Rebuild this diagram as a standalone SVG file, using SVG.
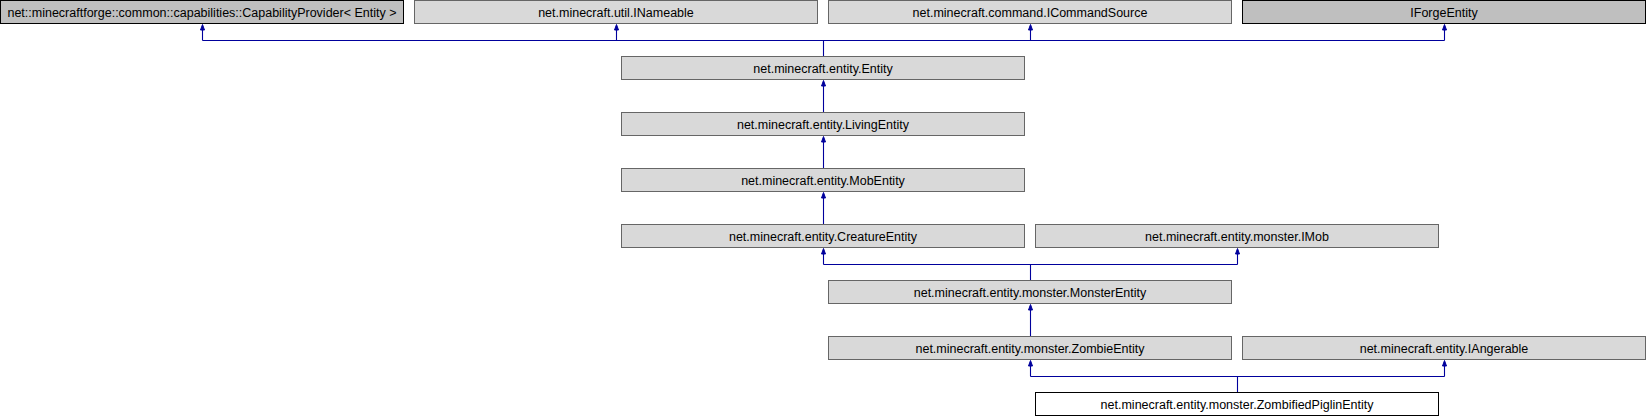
<svg xmlns="http://www.w3.org/2000/svg" width="1646" height="416" viewBox="0 0 1646 416">
<defs>
<style>
.n rect{fill:#d9d9d9;stroke:#666666;stroke-width:1}
.n.ext rect{fill:#bfbfbf;stroke:#000000}
.n.cur rect{fill:#ffffff;stroke:#000000}
.n text{font-family:"Liberation Sans",Arial,Helvetica,sans-serif;font-size:12.5px;fill:#000000;text-anchor:middle}
.e path{fill:none;stroke:#00009c;stroke-width:1.1}
.e polygon{fill:#00009c;stroke:#00009c;stroke-width:1}
</style>
</defs>
<rect x="0" y="0" width="1646" height="416" fill="#ffffff"/>
<g id="connectors" class="e">
<path d="M823.5,56.5V40.5M202.5,40.5H1444.5M202.5,40.5V29M616.5,40.5V29M1030.5,40.5V29M1444.5,40.5V29"/>
<polygon points="202.5,24.5 200.5,30 204.5,30"/>
<polygon points="616.5,24.5 614.5,30 618.5,30"/>
<polygon points="1030.5,24.5 1028.5,30 1032.5,30"/>
<polygon points="1444.5,24.5 1442.5,30 1446.5,30"/>
<path d="M823.5,112.5V85"/>
<polygon points="823.5,80.5 821.5,86 825.5,86"/>
<path d="M823.5,168.5V141"/>
<polygon points="823.5,136.5 821.5,142 825.5,142"/>
<path d="M823.5,224.5V197"/>
<polygon points="823.5,192.5 821.5,198 825.5,198"/>
<path d="M1030.5,280.5V264.5M823.5,264.5H1237.5M823.5,264.5V253M1237.5,264.5V253"/>
<polygon points="823.5,248.5 821.5,254 825.5,254"/>
<polygon points="1237.5,248.5 1235.5,254 1239.5,254"/>
<path d="M1030.5,336.5V309"/>
<polygon points="1030.5,304.5 1028.5,310 1032.5,310"/>
<path d="M1237.5,392.5V376.5M1030.5,376.5H1444.5M1030.5,376.5V365M1444.5,376.5V365"/>
<polygon points="1030.5,360.5 1028.5,366 1032.5,366"/>
<polygon points="1444.5,360.5 1442.5,366 1446.5,366"/>
</g>
<g id="node-capabilityprovider" class="n ext"><rect x="0.5" y="0.5" width="403" height="23"/><text x="202" y="16.5">net::minecraftforge::common::capabilities::CapabilityProvider&lt; Entity &gt;</text></g>
<g id="node-inameable" class="n"><rect x="414.5" y="0.5" width="403" height="23"/><text x="616" y="16.5">net.minecraft.util.INameable</text></g>
<g id="node-icommandsource" class="n"><rect x="828.5" y="0.5" width="403" height="23"/><text x="1030" y="16.5">net.minecraft.command.ICommandSource</text></g>
<g id="node-iforgeentity" class="n ext"><rect x="1242.5" y="0.5" width="403" height="23"/><text x="1444" y="16.5">IForgeEntity</text></g>
<g id="node-entity" class="n"><rect x="621.5" y="56.5" width="403" height="23"/><text x="823" y="72.5">net.minecraft.entity.Entity</text></g>
<g id="node-livingentity" class="n"><rect x="621.5" y="112.5" width="403" height="23"/><text x="823" y="128.5">net.minecraft.entity.LivingEntity</text></g>
<g id="node-mobentity" class="n"><rect x="621.5" y="168.5" width="403" height="23"/><text x="823" y="184.5">net.minecraft.entity.MobEntity</text></g>
<g id="node-creatureentity" class="n"><rect x="621.5" y="224.5" width="403" height="23"/><text x="823" y="240.5">net.minecraft.entity.CreatureEntity</text></g>
<g id="node-imob" class="n"><rect x="1035.5" y="224.5" width="403" height="23"/><text x="1237" y="240.5">net.minecraft.entity.monster.IMob</text></g>
<g id="node-monsterentity" class="n"><rect x="828.5" y="280.5" width="403" height="23"/><text x="1030" y="296.5">net.minecraft.entity.monster.MonsterEntity</text></g>
<g id="node-zombieentity" class="n"><rect x="828.5" y="336.5" width="403" height="23"/><text x="1030" y="352.5">net.minecraft.entity.monster.ZombieEntity</text></g>
<g id="node-iangerable" class="n"><rect x="1242.5" y="336.5" width="403" height="23"/><text x="1444" y="352.5">net.minecraft.entity.IAngerable</text></g>
<g id="node-zombifiedpiglinentity" class="n cur"><rect x="1035.5" y="392.5" width="403" height="23"/><text x="1237" y="408.5">net.minecraft.entity.monster.ZombifiedPiglinEntity</text></g>
</svg>
